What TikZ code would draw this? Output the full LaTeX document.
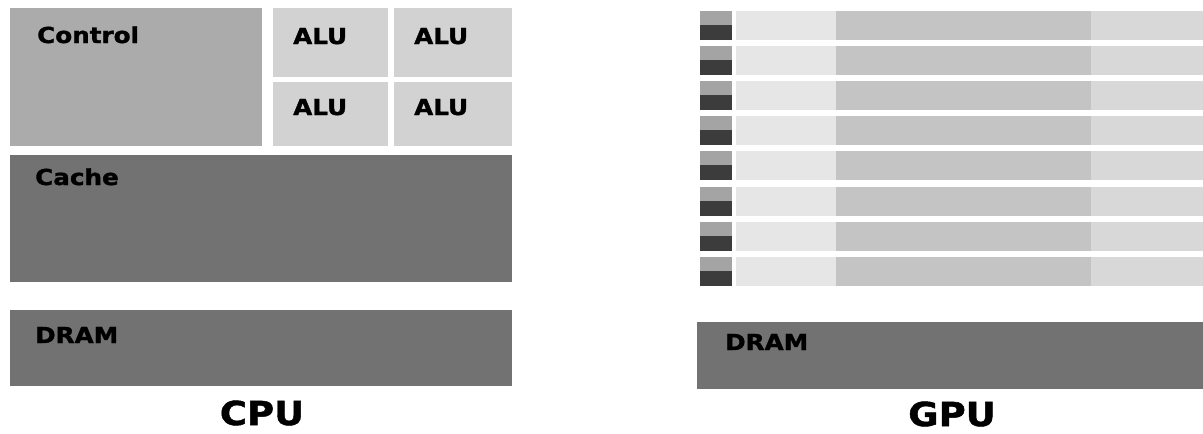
\documentclass[tikz,border=0pt]{standalone}
\usepackage{fontspec}
\setmainfont[FakeStretch=1.12,BoldFeatures={FakeBold=1.5}]{DejaVu Sans}
\definecolor{ctrlgray}{HTML}{ABABAB}
\definecolor{alugray}{HTML}{D2D2D2}
\definecolor{memgray}{HTML}{727272}
\definecolor{gctl}{HTML}{A4A4A4}
\definecolor{gcache}{HTML}{3C3C3C}
\definecolor{stripL}{HTML}{E6E6E6}
\definecolor{stripM}{HTML}{C4C4C4}
\definecolor{stripR}{HTML}{D8D8D8}
\begin{document}
\begin{tikzpicture}[x=1pt,y=-1pt,
  blk/.style={draw=none, inner sep=0pt, outer sep=0pt, anchor=north west},
  lbl/.style={font=\bfseries\fontsize{22}{22}\selectfont, inner sep=0pt, anchor=base west, text=black},
  title/.style={font=\bfseries\fontsize{33}{33}\selectfont, inner sep=0pt, outer sep=0pt, anchor=base}]
\useasboundingbox (0,0) rectangle (1203,434);
% ---------------- CPU ----------------
\node[blk, fill=ctrlgray, minimum width=252pt, minimum height=138pt] (control) at (10,8) {};
\node[blk, fill=alugray, minimum width=115pt, minimum height=69pt] (alu1) at (273,8) {};
\node[blk, fill=alugray, minimum width=118pt, minimum height=69pt] (alu2) at (394,8) {};
\node[blk, fill=alugray, minimum width=115pt, minimum height=64pt] (alu3) at (273,82) {};
\node[blk, fill=alugray, minimum width=118pt, minimum height=64pt] (alu4) at (394,82) {};
\node[blk, fill=memgray, minimum width=502pt, minimum height=127pt] (cache) at (10,155) {};
\node[blk, fill=memgray, minimum width=502pt, minimum height=76pt] (cdram) at (10,310) {};
\node[lbl] (tcontrol) at (37,43) {Control};
\node[lbl] (talu1) at (293,44) {ALU};
\node[lbl] (talu2) at (414,44) {ALU};
\node[lbl] (talu3) at (293,115) {ALU};
\node[lbl] (talu4) at (414,115) {ALU};
\node[lbl] (tcache) at (35,185) {Cache};
\node[lbl] (tcdram) at (35,343) {DRAM};
\node[title] (cpu) at (262,425) {CPU};
% ---------------- GPU ----------------
\foreach \i in {0,...,7}{
  \pgfmathsetmacro{\yy}{11+35.1*\i}
  \node[blk, fill=gctl, minimum width=32pt, minimum height=14pt] (gc\i) at (700,\yy) {};
  \node[blk, fill=gcache, minimum width=32pt, minimum height=15pt] (gk\i) at (700,\yy+14) {};
  \node[blk, fill=stripL, minimum width=100pt, minimum height=29pt] (gs\i a) at (736,\yy) {};
  \node[blk, fill=stripM, minimum width=255pt, minimum height=29pt] (gs\i b) at (836,\yy) {};
  \node[blk, fill=stripR, minimum width=112pt, minimum height=29pt] (gs\i c) at (1091,\yy) {};
}
\node[blk, fill=memgray, minimum width=506pt, minimum height=67pt] (gdram) at (697,322) {};
\node[lbl] (tgdram) at (725,350) {DRAM};
\node[title] (gpu) at (952,426) {GPU};
\end{tikzpicture}
\end{document}
